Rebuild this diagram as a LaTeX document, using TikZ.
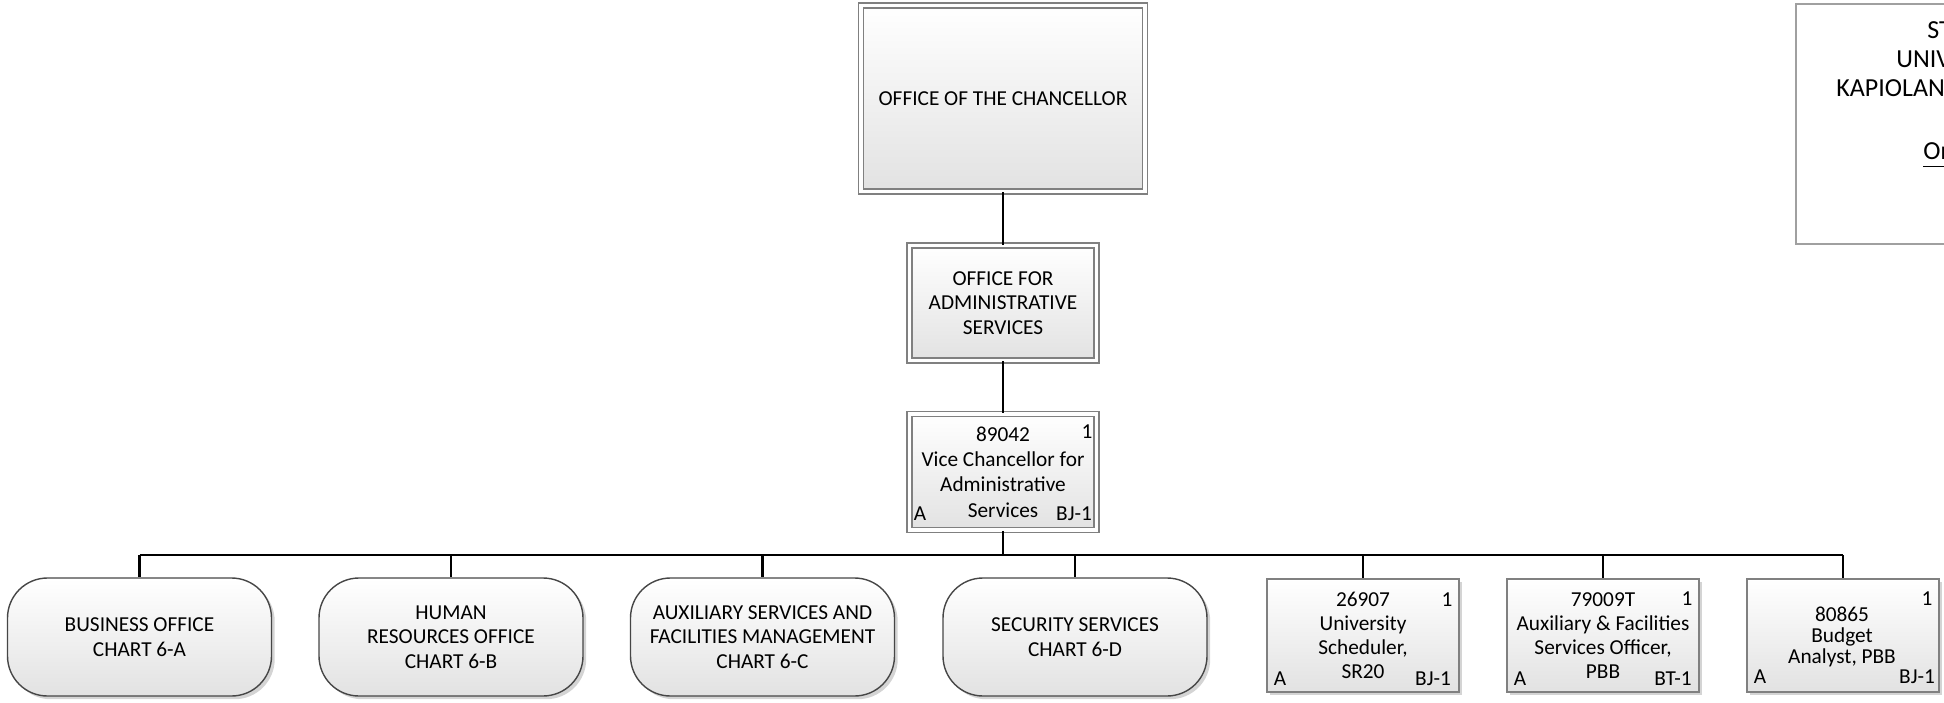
\documentclass[tikz,border=0pt]{standalone}
\usepackage{fontspec}
\setmainfont{Carlito}
\usetikzlibrary{shadows}
\definecolor{bordergray}{RGB}{128,128,128}
\definecolor{rborder}{RGB}{70,70,70}
\definecolor{fillbot}{RGB}{226,226,226}
\definecolor{shadowgray}{RGB}{212,212,212}
\definecolor{titlegray}{RGB}{160,160,160}
\begin{document}
\begin{tikzpicture}[x=0.5pt,y=-0.5pt,
  every node/.style={font=\fontsize{10.65}{12.3}\selectfont, inner sep=0pt, align=center},
  wire/.style={line width=1.3pt, black},
  shadowed/.style={general shadow={shadow xshift=1.6pt, shadow yshift=-1.6pt, fill=shadowgray}},
  gbox/.style={draw=bordergray, line width=0.8pt, top color=white, bottom color=fillbot, shadowed},
  dbox/.style={gbox, double=white, double distance=1.7pt},
  posbox/.style={gbox, minimum width=96pt, minimum height=56.5pt},
  rbox/.style={draw=rborder, line width=0.7pt, rounded corners=20pt, top color=white, bottom color=fillbot, shadowed, minimum width=132pt, minimum height=59pt},
  corner/.style={anchor=center},
  titlebox/.style={draw=titlegray, line width=0.9pt, fill=white, minimum width=160pt, minimum height=120pt, anchor=north west},
  titletext/.style={anchor=base west, font=\fontsize{13}{15}\selectfont}
]
\useasboundingbox (0,0) rectangle (1944,702);
\clip (0,0) rectangle (1944,702);

% title block (cut off at right edge, as in the reference)
\node[titlebox] (title) at (1795,3) {};
\node[titletext] (t1) at (1927,38) {STATE OF HAWAII};
\node[titletext] (t2) at (1896,67) {UNIVERSITY OF HAWAII};
\node[titletext] (t3) at (1836,96) {KAPIOLANI COMMUNITY COLLEGE};
\node[titletext] (t4) at (1923,159) {\underline{Organization Chart}};

% upper chain
\node[dbox, minimum width=142pt, minimum height=93pt] (chanc) at (1003,98.5) {OFFICE OF THE CHANCELLOR};
\node[dbox, minimum width=93.5pt, minimum height=57.5pt] (oas) at (1003,303) {OFFICE FOR\\ADMINISTRATIVE\\SERVICES};
\node[dbox, minimum width=93.5pt, minimum height=58pt, font=\fontsize{10.65}{12.6}\selectfont] (vc) at (1003,472) {89042\\Vice Chancellor for\\Administrative\\Services};
\node[corner] (vc1) at (1087,432) {1};
\node[corner] (vcA) at (920,514) {A};
\node[corner] (vcB) at (1074,514) {BJ-1};

% lower row: rounded units
\node[rbox] (biz) at (139.5,637) {BUSINESS OFFICE\\CHART 6-A};
\node[rbox] (hr) at (451,637) {HUMAN\\RESOURCES OFFICE\\CHART 6-B};
\node[rbox] (aux) at (762.5,637) {AUXILIARY SERVICES AND\\FACILITIES MANAGEMENT\\CHART 6-C};
\node[rbox] (sec) at (1075,637) {SECURITY SERVICES\\CHART 6-D};

% lower row: positions
\node[posbox, font=\fontsize{10.65}{11.9}\selectfont] (sched) at (1363,635.5) {26907\\University\\Scheduler,\\SR20};
\node[corner] (sc1) at (1447,600) {1};
\node[corner] (scA) at (1280,679) {A};
\node[corner] (scB) at (1433,679) {BJ-1};

\node[posbox, font=\fontsize{10.65}{11.9}\selectfont] (afso) at (1603,635.5) {79009T\\Auxiliary \& Facilities\\Services Officer,\\PBB};
\node[corner] (af1) at (1687,599) {1};
\node[corner] (afA) at (1520,679) {A};
\node[corner] (afB) at (1673,679) {BT-1};

\node[posbox] (budget) at (1843,635.5) {};
\node[font=\fontsize{10.65}{10.6}\selectfont] (budtext) at (1842,637) {80865\\Budget\\Analyst, PBB};
\node[corner] (bu1) at (1927,599) {1};
\node[corner] (buA) at (1760,677) {A};
\node[corner] (buB) at (1917,677) {BJ-1};

% connectors
\coordinate (busM) at (1003,555);
\draw[wire] (chanc.south) -- (oas.north);
\draw[wire] (oas.south) -- (vc.north);
\draw[wire] (vc.south) -- (busM);
\draw[wire] (biz.north |- busM) -- (budget.north |- busM);
\foreach \n in {biz,hr,aux,sec,sched,afso,budget}{
  \draw[wire] (\n.north |- busM) -- (\n.north);
}
\end{tikzpicture}
\end{document}
